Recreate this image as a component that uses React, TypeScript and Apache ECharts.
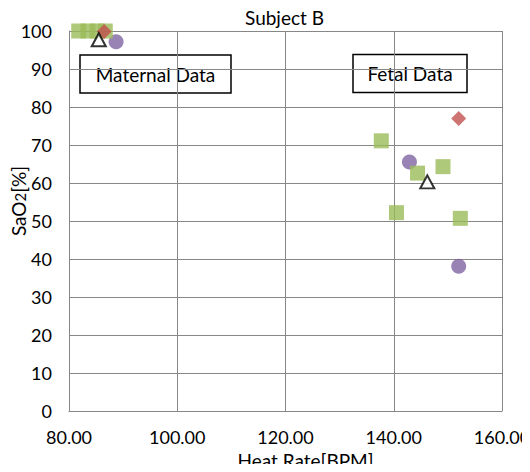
import React, { useEffect, useRef } from "react";
import * as echarts from "echarts";

const titleText = "Subject B";
const xName = "Heat Rate[BPM]";
const xTicks = { min: 80, max: 160, interval: 20 };
const yTicks = { min: 0, max: 100, interval: 10 };

// [heart rate, SaO2]
const purpleCircles: number[][] = [
  [88.7, 97.2],
  [142.9, 65.5],
  [152.0, 38.1],
];
const greenSquares: number[][] = [
  [81.8, 100],
  [83.5, 100],
  [85.2, 100],
  [86.7, 100],
  [137.7, 71.1],
  [144.4, 62.6],
  [149.1, 64.3],
  [140.5, 52.2],
  [152.3, 50.7],
];
const redDiamonds: number[][] = [
  [86.5, 99.9],
  [152.0, 77.0],
];
const triangles: number[][] = [
  [85.5, 97.7],
  [146.2, 60.3],
];
const boxLabels = ["Maternal Data", "Fetal Data"];

const FONT = "Lato, 'Liberation Sans', sans-serif";
const GRID = "#878787";

export default function App() {
  const ref = useRef<HTMLDivElement>(null);
  useEffect(() => {
    if (!ref.current) return;
    const chart = echarts.init(ref.current, null, { renderer: "svg" });
    chart.setOption({
      animation: false,
      backgroundColor: "#ffffff",
      textStyle: { fontFamily: FONT },
      title: {
        text: titleText,
        left: 279.5,
        top: 3,
        textAlign: "center",
        textStyle: { fontFamily: FONT, fontSize: 19, fontWeight: "normal", color: "#000" },
      },
      grid: { left: 69, right: 28, top: 31, bottom: 61, outerBoundsMode: "none", containLabel: false },
      xAxis: {
        type: "value",
        min: xTicks.min,
        max: xTicks.max,
        interval: xTicks.interval,
        name: xName,
        nameLocation: "middle",
        nameGap: 40,
        nameTextStyle: { fontFamily: FONT, fontSize: 19, color: "#000", padding: [0, 0, 0, 40] },
        axisLine: { show: true, lineStyle: { color: GRID, width: 1 } },
        axisTick: { show: false },
        axisLabel: {
          fontFamily: FONT,
          fontSize: 18,
          color: "#000",
          margin: 17,
          formatter: (v: number) => v.toFixed(2),
        },
        splitLine: { show: true, lineStyle: { color: GRID, width: 1 } },
      },
      yAxis: {
        type: "value",
        min: yTicks.min,
        max: yTicks.max,
        interval: yTicks.interval,
        axisLine: { show: true, lineStyle: { color: GRID, width: 1 } },
        axisTick: { show: false },
        axisLabel: { fontFamily: FONT, fontSize: 18, color: "#000", margin: 17 },
        splitLine: { show: true, lineStyle: { color: GRID, width: 1 } },
      },
      series: [
        {
          type: "scatter",
          data: purpleCircles,
          symbol: "circle",
          symbolSize: 15,
          itemStyle: { color: "#8064A2" },
        },
        {
          type: "scatter",
          data: greenSquares,
          symbol: "rect",
          symbolSize: 15,
          itemStyle: { color: "#9BBB59" },
        },
        {
          type: "scatter",
          data: redDiamonds,
          symbol: "diamond",
          symbolSize: 15,
          itemStyle: { color: "#C0504D" },
        },
        {
          type: "scatter",
          data: triangles,
          symbol: "triangle",
          symbolSize: [14, 13],
          itemStyle: { color: "#ffffff", borderColor: "#000000", borderWidth: 2 },
        },
      ],
      graphic: [
        {
          type: "text",
          x: 18,
          y: 201,
          rotation: Math.PI / 2,
          style: {
            text: "{a|SaO}{s|2}{a|[%]}",
            fontFamily: FONT,
            fontSize: 19,
            fill: "#000",
            align: "center",
            verticalAlign: "middle",
            rich: {
              a: { fontFamily: FONT, fontSize: 19, fill: "#000" },
              s: { fontFamily: FONT, fontSize: 15, fill: "#000", verticalAlign: "bottom" },
            },
          },
        },
        {
          type: "group",
          z: 100,
          children: [
            {
              type: "rect",
              shape: { x: 80, y: 55, width: 151, height: 38 },
              style: { fill: "#ffffff", stroke: "#000000", lineWidth: 1.5 },
            },
            {
              type: "text",
              x: 155.5,
              y: 74,
              style: {
                text: boxLabels[0],
                fontFamily: FONT,
                fontSize: 19,
                fill: "#000",
                align: "center",
                verticalAlign: "middle",
              },
            },
            {
              type: "rect",
              shape: { x: 353, y: 54.5, width: 114, height: 38 },
              style: { fill: "#ffffff", stroke: "#000000", lineWidth: 1.5 },
            },
            {
              type: "text",
              x: 410,
              y: 73.5,
              style: {
                text: boxLabels[1],
                fontFamily: FONT,
                fontSize: 19,
                fill: "#000",
                align: "center",
                verticalAlign: "middle",
              },
            },
          ],
        },
      ],
    });
    return () => chart.dispose();
  }, []);
  return <div ref={ref} style={{ width: 530, height: 472, margin: -8 }} />;
}
